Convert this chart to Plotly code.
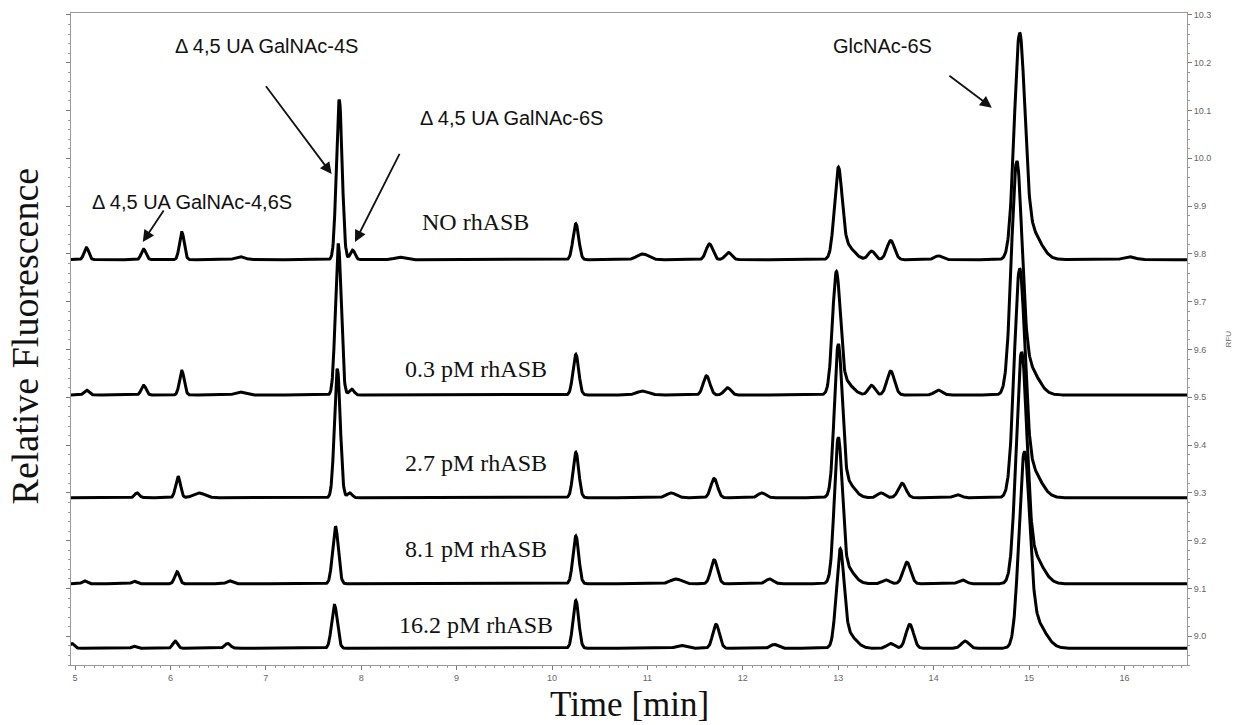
import numpy as np
import plotly.graph_objects as go

# ---- data ----
trace_names = ["NO rhASB", "0.3 pM rhASB", "2.7 pM rhASB", "8.1 pM rhASB", "16.2 pM rhASB"]
baselines = [9.788, 9.505, 9.290, 9.110, 8.975]

# peak retention times (min), heights (RFU above baseline), widths (sigma, min)
peaks_t = [
    [5.12, 5.72, 6.12, 6.73, 7.77, 7.91, 8.40, 10.25, 10.95, 11.65, 11.85, 13.00, 13.08, 13.35, 13.55, 14.05, 14.90, 15.02, 16.05],
    [5.12, 5.72, 6.12, 6.73, 7.76, 7.90, 10.25, 10.95, 11.62, 11.84, 12.98, 13.06, 13.35, 13.55, 14.05, 14.87, 14.99],
    [5.65, 6.08, 6.30, 7.75, 7.88, 10.25, 11.25, 11.70, 12.20, 13.00, 13.08, 13.45, 13.67, 14.25, 14.90, 15.02],
    [5.10, 5.62, 6.07, 6.62, 7.73, 10.25, 11.30, 11.70, 12.28, 13.00, 13.08, 13.50, 13.72, 14.30, 14.92, 15.04],
    [4.97, 5.62, 6.05, 6.60, 7.72, 10.25, 11.35, 11.72, 12.33, 13.02, 13.10, 13.55, 13.75, 14.33, 14.95, 15.07],
]
peaks_h = [
    [0.025, 0.022, 0.057, 0.006, 0.335, 0.020, 0.005, 0.075, 0.012, 0.033, 0.015, 0.175, 0.030, 0.018, 0.040, 0.008, 0.445, 0.060, 0.006],
    [0.010, 0.020, 0.050, 0.006, 0.315, 0.012, 0.085, 0.008, 0.040, 0.015, 0.240, 0.030, 0.020, 0.050, 0.010, 0.460, 0.060],
    [0.010, 0.045, 0.010, 0.270, 0.010, 0.095, 0.010, 0.040, 0.010, 0.300, 0.035, 0.010, 0.030, 0.006, 0.450, 0.060],
    [0.006, 0.005, 0.025, 0.006, 0.120, 0.100, 0.010, 0.050, 0.010, 0.285, 0.035, 0.008, 0.045, 0.008, 0.455, 0.060],
    [0.010, 0.004, 0.015, 0.010, 0.090, 0.100, 0.006, 0.050, 0.008, 0.190, 0.030, 0.010, 0.050, 0.015, 0.385, 0.055],
]
peaks_w = [
    [0.025, 0.025, 0.025, 0.05, 0.030, 0.025, 0.05, 0.030, 0.06, 0.035, 0.035, 0.040, 0.08, 0.035, 0.040, 0.04, 0.055, 0.10, 0.06],
    [0.025, 0.025, 0.025, 0.05, 0.030, 0.025, 0.030, 0.06, 0.035, 0.035, 0.040, 0.08, 0.035, 0.040, 0.04, 0.055, 0.10],
    [0.025, 0.025, 0.06, 0.030, 0.025, 0.030, 0.05, 0.035, 0.04, 0.040, 0.08, 0.04, 0.040, 0.04, 0.055, 0.10],
    [0.025, 0.025, 0.025, 0.03, 0.030, 0.030, 0.06, 0.035, 0.04, 0.040, 0.08, 0.04, 0.040, 0.04, 0.055, 0.10],
    [0.025, 0.025, 0.025, 0.03, 0.030, 0.030, 0.05, 0.035, 0.04, 0.040, 0.08, 0.04, 0.040, 0.04, 0.055, 0.10],
]
label_y = [9.867, 9.560, 9.362, 9.183, 9.023]

peak_labels = ["\u0394 4,5 UA GalNAc-4S", "\u0394 4,5 UA GalNAc-6S", "\u0394 4,5 UA GalNAc-4,6S", "GlcNAc-6S"]

t = np.arange(4.95, 16.67, 0.004)

fig = go.Figure()
for name, base, pt, ph, pw in zip(trace_names, baselines, peaks_t, peaks_h, peaks_w):
    y = np.full_like(t, base)
    for c, h, w in zip(pt, ph, pw):
        y += h * np.exp(-0.5 * ((t - c) / w) ** 2)
    fig.add_trace(go.Scatter(x=t, y=y, mode="lines", name=name,
                             line=dict(color="black", width=3), showlegend=False,
                             hoverinfo="skip"))

# series labels
for name, ly in zip(trace_names, label_y):
    fig.add_annotation(x=9.2, y=ly, text=name, showarrow=False,
                       font=dict(family="Liberation Serif", size=24, color="#111"))

# peak labels with arrows
lab_pos = [(7.01, 10.235), (9.58, 10.085), (6.23, 9.908), (13.46, 10.235)]
arrows = [((6.99, 10.154), (7.69, 9.967)),
          ((8.41, 10.0125), (7.935, 9.825)),
          ((5.94, 9.894), (5.71, 9.825)),
          ((14.15, 10.175), (14.61, 10.106))]
for txt, (lx, ly), ((ax_, ay_), (hx, hy)) in zip(peak_labels, lab_pos, arrows):
    fig.add_annotation(x=lx, y=ly, text=txt, showarrow=False,
                       font=dict(family="Liberation Sans", size=20, color="#111"))
    fig.add_annotation(x=hx, y=hy, ax=ax_, ay=ay_, axref="x", ayref="y",
                       xref="x", yref="y", text="", showarrow=True,
                       arrowhead=2, arrowsize=1.3, arrowwidth=1.8, arrowcolor="#111")

# RFU label
fig.add_annotation(xref="paper", yref="paper", x=1.043, y=0.5, text="RFU", showarrow=False,
                   textangle=-90, font=dict(family="Liberation Sans", size=8, color="#666"))

# axis titles
fig.add_annotation(xref="paper", yref="paper", x=-0.0412, y=0.504, text="Relative Fluorescence",
                   showarrow=False, textangle=-90, xanchor="center", yanchor="middle",
                   font=dict(family="Liberation Serif", size=38, color="#111"))
fig.add_annotation(xref="paper", yref="paper", x=0.5, y=-0.061, text="Time [min]",
                   showarrow=False, xanchor="center", yanchor="middle",
                   font=dict(family="Liberation Serif", size=35, color="#111"))

fig.update_layout(
    width=1241, height=725,
    margin=dict(l=71, r=54, t=10, b=60),
    plot_bgcolor="white", paper_bgcolor="white",
    xaxis=dict(range=[4.958, 16.656], showgrid=False, zeroline=False,
               showline=True, linecolor="#999", linewidth=1, mirror=True,
               ticks="outside", ticklen=4, tickcolor="#777", dtick=1, tick0=5,
               tickfont=dict(family="Liberation Sans", size=9, color="#666"),
               minor=dict(ticks="outside", ticklen=2, dtick=0.1, tickcolor="#999")),
    yaxis=dict(range=[8.940, 10.304], side="right", showgrid=False, zeroline=False,
               showline=True, linecolor="#999", linewidth=1, mirror="ticks",
               ticks="outside", ticklen=4, tickcolor="#777", dtick=0.1, tick0=9.0,
               tickformat=".1f",
               tickfont=dict(family="Liberation Sans", size=9, color="#666"),
               minor=dict(ticks="outside", ticklen=2, dtick=0.02, tickcolor="#999")),
)

fig.write_html("out.html")
